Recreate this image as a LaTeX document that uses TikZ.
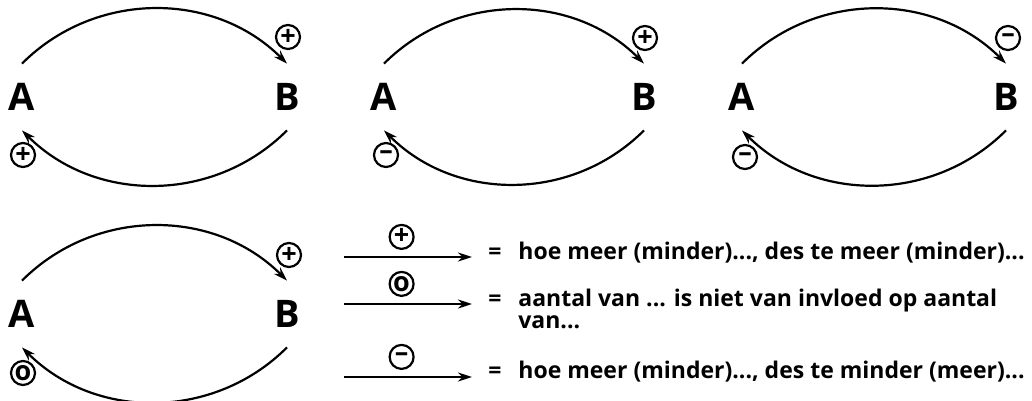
\documentclass[tikz,border=0pt]{standalone}
\usepackage{fontspec}
\setmainfont{Open Sans}
\usetikzlibrary{arrows.meta}

\begin{document}
\begin{tikzpicture}[
  x=0.5pt, y=0.5pt,
  every node/.style={font=\bfseries\fontsize{11.5}{11}\selectfont},
  letter/.style={font=\bfseries\fontsize{19}{19}\selectfont,minimum height=33pt,inner sep=0pt},
  sign/.style={circle,draw,line width=1.1pt,minimum size=12pt,inner sep=0pt,font=\bfseries\fontsize{13.5}{13.5}\selectfont},
  feedback/.style={line width=1.1pt,-{Stealth[length=7pt,width=4.5pt]},bend left=45},
  keyarrow/.style={line width=1.1pt,-{Stealth[length=7pt,width=4.5pt]}},
  lbl/.style={anchor=base west,align=left,inner sep=0pt}
]
\useasboundingbox (0,0) rectangle (1032,-401);
% loops
\node[letter] (a1) at (22,-97) {A};
\node[letter] (b1) at (287,-97) {B};
\node[letter] (a2) at (384,-97) {A};
\node[letter] (b2) at (644,-97) {B};
\node[letter] (a3) at (742,-97) {A};
\node[letter] (b3) at (1006,-97) {B};
\node[letter] (a4) at (22,-314) {A};
\node[letter] (b4) at (287,-314) {B};
\draw[feedback] (a1.north) to (b1.north);
\draw[feedback] (b1.south) to (a1.south);
\draw[feedback] (a2.north) to (b2.north);
\draw[feedback] (b2.south) to (a2.south);
\draw[feedback] (a3.north) to (b3.north);
\draw[feedback] (b3.south) to (a3.south);
\draw[feedback] (a4.north) to (b4.north);
\draw[feedback] (b4.south) to (a4.south);
\node[sign] (p1) at (288,-37) {+};
\node[sign] (q1) at (23,-155) {+};
\node[sign] (p2) at (645,-38) {+};
\node[sign] (q2) at (386,-155) {–};
\node[sign] (p3) at (1008,-38) {–};
\node[sign] (q3) at (745,-157) {–};
\node[sign] (p4) at (289,-255) {+};
\node[sign] (q4) at (23,-373) {o};
% legend
\coordinate (s1) at (344,-257);
\coordinate (e1) at (472,-257);
\coordinate (s2) at (344,-304);
\coordinate (e2) at (472,-304);
\coordinate (s3) at (344,-377);
\coordinate (e3) at (472,-377);
\draw[keyarrow] (s1) -- node[sign,pos=0.45,above=3.5pt] (k1) {+} (e1);
\draw[keyarrow] (s2) -- node[sign,pos=0.45,above=3.5pt] (k2) {o} (e2);
\draw[keyarrow] (s3) -- node[sign,pos=0.45,above=3.5pt] (k3) {–} (e3);
\node[lbl] (eq1) at (488,-259) {=};
\node[lbl] (t1) at (518,-259) {hoe meer (minder)..., des te meer (minder)...};
\node[lbl] (eq2) at (488,-306) {=};
\node[lbl] (t2) at (518,-328) {aantal van ... is niet van invloed op aantal\\van...};
\node[lbl] (eq3) at (488,-378) {=};
\node[lbl] (t3) at (518,-378) {hoe meer (minder)..., des te minder (meer)...};
\end{tikzpicture}
\end{document}
